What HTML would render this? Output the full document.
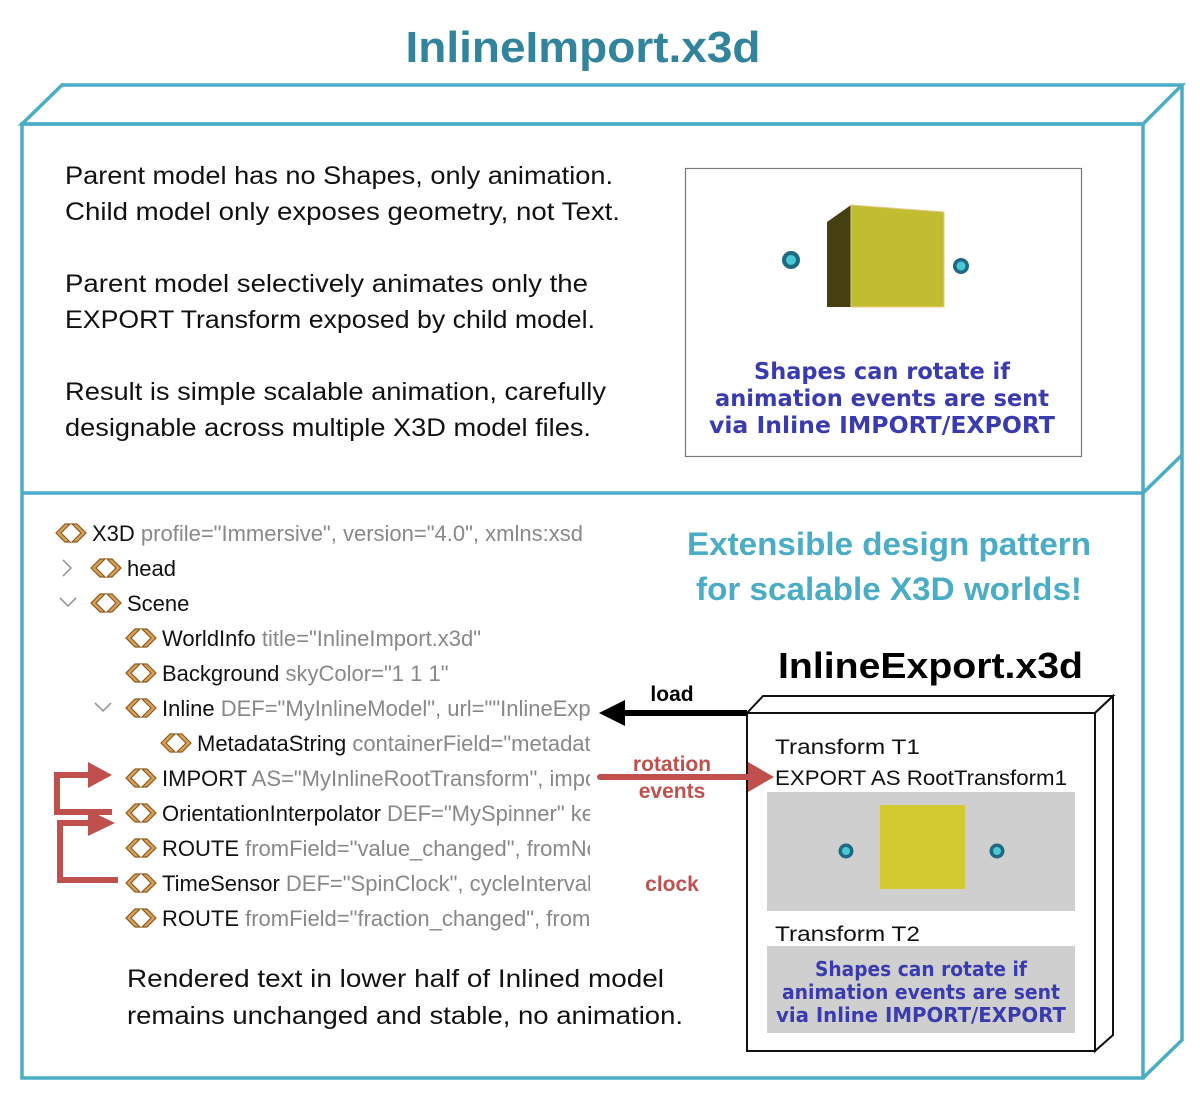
<!DOCTYPE html>
<html><head><meta charset="utf-8"><style>html,body{margin:0;padding:0;background:#fff}svg{display:block}</style></head>
<body>
<svg width="1200" height="1101" viewBox="0 0 1200 1101" xmlns="http://www.w3.org/2000/svg">
<defs>
<g id="ic">
<path d="M1 10 L10 1 L15 1 L6 10 L15 19 L10 19 Z" fill="#d9a15a" stroke="#8a5a1e" stroke-width="1.2"/>
<path d="M31 10 L22 1 L17 1 L26 10 L17 19 L22 19 Z" fill="#d9a15a" stroke="#8a5a1e" stroke-width="1.2"/>
</g>
<clipPath id="tc"><rect x="40" y="510" width="550" height="430"/></clipPath>
</defs>
<text x="583" y="62" text-anchor="middle" font-family="Liberation Sans, sans-serif" font-weight="bold" font-size="44" fill="#31849b" textLength="355" lengthAdjust="spacingAndGlyphs">InlineImport.x3d</text>
<g stroke="#4bacc6" stroke-width="3.5" fill="none">
<path d="M22 124 L62 85 L1182 85 L1143 124 Z"/>
<rect x="22" y="124" width="1121" height="954"/>
<path d="M1182 85 L1182 1040 L1143 1078"/>
<path d="M22 493 L1143 493 L1182 455"/>
</g>
<g font-family="Liberation Sans, sans-serif" font-size="25" fill="#111">
<text x="65" y="184" textLength="548" lengthAdjust="spacingAndGlyphs">Parent model has no Shapes, only animation.</text>
<text x="65" y="220" textLength="555" lengthAdjust="spacingAndGlyphs">Child model only exposes geometry, not Text.</text>
<text x="65" y="292" textLength="523" lengthAdjust="spacingAndGlyphs">Parent model selectively animates only the</text>
<text x="65" y="328" textLength="530" lengthAdjust="spacingAndGlyphs">EXPORT Transform exposed by child model.</text>
<text x="65" y="400" textLength="541" lengthAdjust="spacingAndGlyphs">Result is simple scalable animation, carefully</text>
<text x="65" y="436" textLength="526" lengthAdjust="spacingAndGlyphs">designable across multiple X3D model files.</text>
</g>
<rect x="685.5" y="168.5" width="396" height="288" fill="#fff" stroke="#777" stroke-width="1.2"/>
<path d="M827 222 L851 205 L851 307 L827 307 Z" fill="#463f12"/>
<path d="M851 205 L944 212 L944 307 L851 307 Z" fill="#c0bd30" stroke="#e8c98a" stroke-width="1"/>
<circle cx="791" cy="260" r="9" fill="#1f6a80"/><circle cx="791" cy="260" r="5" fill="#4cc8d4"/>
<circle cx="961" cy="266" r="8" fill="#1f6a80"/><circle cx="961" cy="266" r="4.5" fill="#4cc8d4"/>
<g font-family="DejaVu Sans, sans-serif" font-weight="bold" font-size="23" fill="#3b3bb0" text-anchor="middle">
<text x="882" y="379" textLength="256" lengthAdjust="spacingAndGlyphs">Shapes can rotate if</text>
<text x="882" y="406" textLength="334" lengthAdjust="spacingAndGlyphs">animation events are sent</text>
<text x="882" y="433" textLength="346" lengthAdjust="spacingAndGlyphs">via Inline IMPORT/EXPORT</text>
</g>
<g clip-path="url(#tc)" font-family="Liberation Sans, sans-serif" font-size="22">
<g fill="none" stroke="#999" stroke-width="1.6">
<path d="M63 560 L71 568 L63 576"/>
<path d="M60 598 L68 606 L76 598"/>
<path d="M95 703 L103 711 L111 703"/>
</g>
<use href="#ic" x="55" y="523"/><text x="92" y="541"><tspan fill="#111">X3D</tspan><tspan fill="#888"> profile="Immersive", version="4.0", xmlns:xsd</tspan></text>
<use href="#ic" x="90" y="558"/><text x="127" y="576" fill="#111">head</text>
<use href="#ic" x="90" y="593"/><text x="127" y="611" fill="#111">Scene</text>
<use href="#ic" x="125" y="628"/><text x="162" y="646"><tspan fill="#111">WorldInfo</tspan><tspan fill="#888"> title="InlineImport.x3d"</tspan></text>
<use href="#ic" x="125" y="663"/><text x="162" y="681"><tspan fill="#111">Background</tspan><tspan fill="#888"> skyColor="1 1 1"</tspan></text>
<use href="#ic" x="125" y="698"/><text x="162" y="716"><tspan fill="#111">Inline</tspan><tspan fill="#888"> DEF="MyInlineModel", url=""InlineExport</tspan></text>
<use href="#ic" x="160" y="733"/><text x="197" y="751"><tspan fill="#111">MetadataString</tspan><tspan fill="#888"> containerField="metadata"</tspan></text>
<use href="#ic" x="125" y="768"/><text x="162" y="786"><tspan fill="#111">IMPORT</tspan><tspan fill="#888"> AS="MyInlineRootTransform", importedDEF</tspan></text>
<use href="#ic" x="125" y="803"/><text x="162" y="821"><tspan fill="#111">OrientationInterpolator</tspan><tspan fill="#888"> DEF="MySpinner" key</tspan></text>
<use href="#ic" x="125" y="838"/><text x="162" y="856"><tspan fill="#111">ROUTE</tspan><tspan fill="#888"> fromField="value_changed", fromNode</tspan></text>
<use href="#ic" x="125" y="873"/><text x="162" y="891"><tspan fill="#111">TimeSensor</tspan><tspan fill="#888"> DEF="SpinClock", cycleInterval</tspan></text>
<use href="#ic" x="125" y="908"/><text x="162" y="926"><tspan fill="#111">ROUTE</tspan><tspan fill="#888"> fromField="fraction_changed", fromNode</tspan></text>
</g>
<g font-family="Liberation Sans, sans-serif" font-weight="bold" font-size="21" text-anchor="middle">
<text x="672" y="701" fill="#000">load</text>
<text x="672" y="771" fill="#c0504d">rotation</text>
<text x="672" y="798" fill="#c0504d">events</text>
<text x="672" y="891" fill="#c0504d">clock</text>
</g>
<g font-family="Liberation Sans, sans-serif" font-weight="bold" font-size="32" fill="#4bacc6" text-anchor="middle">
<text x="889" y="555" textLength="404" lengthAdjust="spacingAndGlyphs">Extensible design pattern</text>
<text x="889" y="600" textLength="386" lengthAdjust="spacingAndGlyphs">for scalable X3D worlds!</text>
</g>
<text x="778" y="678" font-family="Liberation Sans, sans-serif" font-weight="bold" font-size="36" fill="#000" textLength="305" lengthAdjust="spacingAndGlyphs">InlineExport.x3d</text>
<g stroke="#111" stroke-width="2" fill="#fff">
<path d="M747 713 L763 696 L1113 696 L1095 713 Z"/>
<path d="M1095 713 L1113 696 L1113 1035 L1095 1051 Z"/>
<rect x="747" y="713" width="348" height="338"/>
</g>
<g font-family="Liberation Sans, sans-serif" font-size="21" fill="#111">
<text x="775" y="754" textLength="145" lengthAdjust="spacingAndGlyphs">Transform  T1</text>
<text x="775" y="785" textLength="292" lengthAdjust="spacingAndGlyphs">EXPORT AS RootTransform1</text>
<text x="775" y="941" textLength="145" lengthAdjust="spacingAndGlyphs">Transform  T2</text>
</g>
<rect x="767" y="792" width="308" height="119" fill="#cfcfcf"/>
<rect x="880" y="805" width="85" height="84" fill="#d2ca30"/>
<circle cx="846" cy="851" r="7.5" fill="#1f6a80"/><circle cx="846" cy="851" r="4" fill="#4cc8d4"/>
<circle cx="997" cy="851" r="7.5" fill="#1f6a80"/><circle cx="997" cy="851" r="4" fill="#4cc8d4"/>
<rect x="767" y="946" width="308" height="87" fill="#cfcfcf"/>
<g font-family="DejaVu Sans, sans-serif" font-weight="bold" font-size="20" fill="#3b3bb0" text-anchor="middle">
<text x="921" y="976" textLength="212" lengthAdjust="spacingAndGlyphs">Shapes can rotate if</text>
<text x="921" y="999" textLength="278" lengthAdjust="spacingAndGlyphs">animation events are sent</text>
<text x="921" y="1022" textLength="290" lengthAdjust="spacingAndGlyphs">via Inline IMPORT/EXPORT</text>
</g>
<!-- arrows on top -->
<g fill="none" stroke="#c0504d" stroke-width="6" stroke-linecap="round">
<path d="M112 812 L57 812 L57 775 L92 775" stroke-linecap="butt"/>
<path d="M118 880 L60 880 L60 823 L92 823" stroke-linecap="butt"/>
<path d="M600 777 L752 777"/>
</g>
<g fill="#c0504d">
<path d="M88 762 L112 775 L88 788 Z"/>
<path d="M88 810 L115 823 L88 836 Z"/>
<path d="M748 762 L774 777 L748 792 Z"/>
</g>
<path d="M747 713 L622 713" stroke="#000" stroke-width="6" fill="none"/>
<path d="M625 700 L599 713 L625 726 Z" fill="#000"/>
<g font-family="Liberation Sans, sans-serif" font-size="25" fill="#111">
<text x="127" y="987" textLength="537" lengthAdjust="spacingAndGlyphs">Rendered text in lower half of Inlined model</text>
<text x="127" y="1024" textLength="556" lengthAdjust="spacingAndGlyphs">remains unchanged and stable, no animation.</text>
</g>
</svg>
</body></html>
